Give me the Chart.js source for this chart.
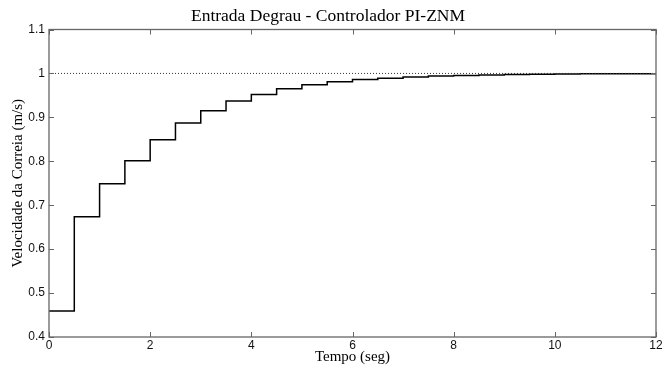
<!DOCTYPE html>
<html lang="pt">
<head>
  <meta charset="UTF-8" />
  <title>Entrada Degrau - Controlador PI-ZNM</title>
  <script src="https://cdn.jsdelivr.net/npm/chart.js"></script>
  <style>
    html, body { margin: 0; padding: 0; background: #fff; }
    #wrap { width: 664px; height: 367px; }
  </style>
</head>
<body>
  <div id="wrap"><canvas id="stepChart"></canvas></div>

  <script>
    // sample times (s) and held output of the discrete PI loop
    const tempo = [0, 0.5, 1, 1.5, 2, 2.5, 3, 3.5, 4, 4.5, 5, 5.5, 6, 6.5, 7, 7.5, 8, 8.5, 9, 9.5, 10, 10.5, 11, 11.5, 12];
    const velocidade = [0.459, 0.674, 0.749, 0.801, 0.849, 0.887, 0.915, 0.937, 0.952, 0.965, 0.974, 0.981,
      0.986, 0.989, 0.992, 0.994, 0.9955, 0.9966, 0.9975, 0.998, 0.9986, 0.999, 0.9993, 0.9995, 0.9996];
    const referencia = 1;
    const xTicks = [0, 2, 4, 6, 8, 10, 12];
    const yTicks = [0.4, 0.5, 0.6, 0.7, 0.8, 0.9, 1.0, 1.1];

    const stepData = tempo.map((t, i) => ({ x: t, y: velocidade[i] }));
    const refData = [{ x: tempo[0], y: referencia }, { x: tempo[tempo.length - 1], y: referencia }];

    // MATLAB style box with ticks pointing inward on all four sides
    const boxTicks = {
      id: 'boxTicks',
      afterDraw(chart) {
        const { ctx, chartArea: a, scales } = chart;
        const len = 5;
        ctx.save();
        ctx.strokeStyle = '#666';
        ctx.lineWidth = 1;
        ctx.beginPath();
        xTicks.forEach(v => {
          const px = Math.round(scales.x.getPixelForValue(v)) + 0.5;
          ctx.moveTo(px, a.bottom); ctx.lineTo(px, a.bottom - len);
          ctx.moveTo(px, a.top); ctx.lineTo(px, a.top + len);
        });
        yTicks.forEach(v => {
          const py = Math.round(scales.y.getPixelForValue(v)) + 0.5;
          ctx.moveTo(a.left, py); ctx.lineTo(a.left + len, py);
          ctx.moveTo(a.right, py); ctx.lineTo(a.right - len, py);
        });
        ctx.stroke();
        ctx.lineWidth = 1.3;
        ctx.strokeRect(a.left, a.top, a.right - a.left, a.bottom - a.top);
        ctx.restore();
      }
    };

    new Chart(document.getElementById('stepChart'), {
      type: 'line',
      data: {
        datasets: [
          {
            data: refData,
            borderColor: '#333',
            borderWidth: 1,
            borderDash: [1, 2],
            pointRadius: 0
          },
          {
            data: stepData,
            borderColor: '#000',
            borderWidth: 1.5,
            stepped: 'before',
            pointRadius: 0
          }
        ]
      },
      options: {
        responsive: true,
        maintainAspectRatio: false,
        animation: false,
        layout: { padding: { left: 0, right: 8, top: 0, bottom: 0 } },
        plugins: {
          legend: { display: false },
          tooltip: { enabled: false },
          title: {
            display: true,
            text: 'Entrada Degrau - Controlador PI-ZNM',
            color: '#000',
            font: { family: 'Liberation Serif', size: 17.5, weight: 'normal' },
            padding: { top: 6, bottom: 2.5 }
          }
        },
        scales: {
          x: {
            type: 'linear',
            min: 0,
            max: 12,
            afterBuildTicks: s => { s.ticks = xTicks.map(v => ({ value: v })); },
            afterFit: s => { s.height = 30; },
            grid: { display: false, drawTicks: false },
            border: { display: false },
            ticks: {
              color: '#111',
              padding: 1,
              maxRotation: 0,
              font: { family: 'Liberation Sans', size: 12 }
            },
            title: {
              display: true,
              text: 'Tempo (seg)',
              color: '#000',
              padding: { top: 0, bottom: 1 },
              font: { family: 'Liberation Serif', size: 15 }
            }
          },
          y: {
            min: 0.4,
            max: 1.1,
            afterBuildTicks: s => { s.ticks = yTicks.map(v => ({ value: v })); },
            afterFit: s => { s.width = 49; },
            grid: { display: false, drawTicks: false },
            border: { display: false },
            ticks: {
              color: '#111',
              padding: 4,
              font: { family: 'Liberation Sans', size: 12 },
              callback: v => String(Number(v.toFixed(1)))
            },
            title: {
              display: true,
              text: 'Velocidade da Correia (m/s)',
              color: '#000',
              padding: { top: 9, bottom: 0 },
              font: { family: 'Liberation Serif', size: 15 }
            }
          }
        }
      },
      plugins: [boxTicks]
    });
  </script>
</body>
</html>
